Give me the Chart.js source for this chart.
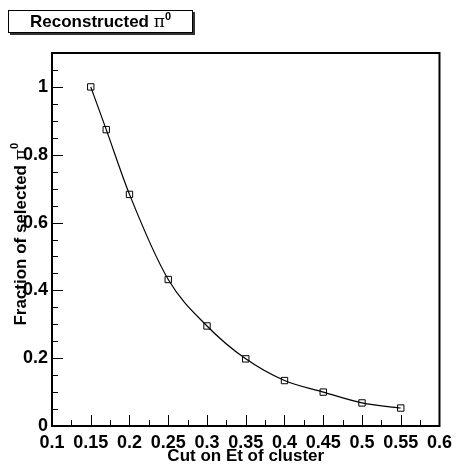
<!DOCTYPE html>
<html>
<head>
<meta charset="utf-8">
<script src="https://cdn.jsdelivr.net/npm/chart.js@4/dist/chart.umd.min.js"></script>
<style>
  body { margin: 0; background: #fff; }
  #wrap { position: relative; width: 458px; height: 464px; }
  #title {
    position: absolute; left: 8px; top: 10px; width: 183px; height: 21px;
    border: 1px solid #000; background: #fff;
    box-shadow: 2px 2px 0 #333;
    font: bold 17px "Liberation Sans", Arial, sans-serif;
    text-align: center; line-height: 21px;
  }
  #title .pi { font: 17px "DejaVu Serif", "Liberation Serif", serif; }
  #title sup { font-size: 11px; line-height: 0; }
</style>
</head>
<body>
<div id="wrap">
  <canvas id="chart" width="458" height="464"></canvas>
  <div id="title">Reconstructed <span class="pi">π</span><sup>0</sup></div>
</div>
<script>
const cuts = [0.15, 0.17, 0.2, 0.25, 0.3, 0.35, 0.4, 0.45, 0.5, 0.55];
const fraction = [1.0, 0.874, 0.683, 0.432, 0.295, 0.198, 0.134, 0.1, 0.068, 0.053];
const xTicks = [0.1, 0.15, 0.2, 0.25, 0.3, 0.35, 0.4, 0.45, 0.5, 0.55, 0.6];
const yTicks = [0, 0.2, 0.4, 0.6, 0.8, 1];

const font = "Liberation Sans, Arial, sans-serif";

// ROOT style frame with ticks pointing inwards and axis titles
const rootAxes = {
  id: "rootAxes",
  afterDraw(chart) {
    const { ctx, chartArea: a, scales: { x, y } } = chart;
    ctx.save();
    ctx.strokeStyle = "#000";
    ctx.lineWidth = 1;
    ctx.beginPath();
    for (let i = 0; i <= 20; i++) {
      const v = 0.1 + i * 0.025;
      const px = Math.round(x.getPixelForValue(v)) + 0.5;
      const len = i % 2 === 0 ? 11 : 6;
      ctx.moveTo(px, a.bottom);
      ctx.lineTo(px, a.bottom - len);
    }
    for (let i = 0; i <= 22; i++) {
      const v = i * 0.05;
      const py = Math.round(y.getPixelForValue(v)) + 0.5;
      const len = i % 4 === 0 ? 11 : 6;
      ctx.moveTo(a.left, py);
      ctx.lineTo(a.left + len, py);
    }
    ctx.stroke();
    ctx.lineWidth = 2;
    ctx.strokeRect(a.left, a.top, a.right - a.left, a.bottom - a.top);

    // x title
    ctx.fillStyle = "#000";
    ctx.font = "bold 17px " + font;
    ctx.textAlign = "center";
    ctx.textBaseline = "alphabetic";
    ctx.fillText("Cut on Et of cluster", (a.left + a.right) / 2, 461);

    // y title, rotated, ending near y=143
    ctx.translate(26, 143);
    ctx.rotate(-Math.PI / 2);
    ctx.textAlign = "left";
    const main = "Fraction of selected ";
    ctx.font = "bold 17px " + font;
    const w1 = ctx.measureText(main).width;
    ctx.font = "17px DejaVu Serif, serif";
    const w2 = ctx.measureText("π").width;
    ctx.font = "bold 11px " + font;
    const w3 = ctx.measureText("0").width;
    let start = -(w1 + w2 + w3);
    ctx.font = "bold 17px " + font;
    ctx.fillText(main, start, 0);
    ctx.font = "17px DejaVu Serif, serif";
    ctx.fillText("π", start + w1, 0);
    ctx.font = "bold 11px " + font;
    ctx.fillText("0", start + w1 + w2, -8);
    ctx.restore();
  }
};

new Chart(document.getElementById("chart"), {
  type: "line",
  data: {
    datasets: [{
      data: cuts.map((c, i) => ({ x: c, y: fraction[i] })),
      borderColor: "#000",
      borderWidth: 1.2,
      tension: 0.4,
      cubicInterpolationMode: "monotone",
      pointStyle: "rect",
      pointRadius: 4.5,
      pointBorderWidth: 1,
      pointBorderColor: "#000",
      pointBackgroundColor: "rgba(0,0,0,0)"
    }]
  },
  options: {
    responsive: false,
    animation: false,
    layout: { padding: { top: 53, right: 14, left: 0, bottom: 0 } },
    plugins: { legend: { display: false }, tooltip: { enabled: false } },
    scales: {
      x: {
        type: "linear",
        min: 0.1,
        max: 0.6,
        afterBuildTicks: s => { s.ticks = xTicks.map(v => ({ value: v })); },
        afterFit: s => { s.height = 38; },
        grid: { display: false, drawTicks: false },
        border: { display: false },
        ticks: {
          padding: 6,
          color: "#000",
          font: { family: font, size: 18, weight: "bold" },
          maxRotation: 0,
          autoSkip: false,
          callback: v => String(parseFloat(v.toFixed(2)))
        }
      },
      y: {
        min: 0,
        max: 1.1,
        afterBuildTicks: s => { s.ticks = yTicks.map(v => ({ value: v })); },
        afterFit: s => { s.width = 52; },
        grid: { display: false, drawTicks: false },
        border: { display: false },
        ticks: {
          padding: 4,
          color: "#000",
          font: { family: font, size: 18, weight: "bold" },
          callback: v => String(parseFloat(v.toFixed(1)))
        }
      }
    }
  },
  plugins: [rootAxes]
});
</script>
</body>
</html>
